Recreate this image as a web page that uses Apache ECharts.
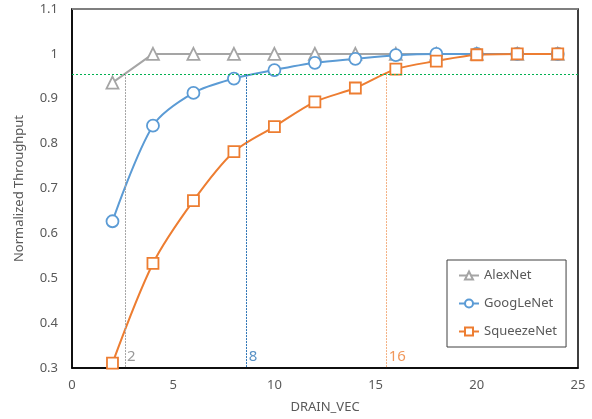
<!DOCTYPE html>
<html><head><meta charset="utf-8">
<script src="https://cdn.jsdelivr.net/npm/echarts@6/dist/echarts.min.js"></script>
<style>html,body{margin:0;padding:0;background:#fff}#c{width:592px;height:419px}</style>
</head><body><div id="c"></div>
<script>
const drainVec = [2,4,6,8,10,12,14,16,18,20,22,24];
const alexNet = [0.936,1,1,1,1,1,1,1,1,1,1,1];
const googLeNet = [0.627,0.840,0.913,0.945,0.964,0.980,0.989,0.997,1.0,1.0,1.0,1.0];
const squeezeNet = [0.311,0.533,0.673,0.782,0.838,0.893,0.924,0.966,0.984,0.998,1.0,1.0];
const threshold = 0.955;
const cutoffX = [2.62, 8.63, 15.55];
const cutoffLabels = ['2','8','16'];
const cutoffLineColors = ['#A5A5A5','#2E75B6','#F4B183'];
const cutoffTextColors = ['#7F7F7F','#2E75B6','#ED7D31'];
const lineColors = ['#A5A5A5','#5B9BD5','#ED7D31'];
const font = 'Noto Sans';

const pairs = (ys) => drainVec.map((x,i)=>[x, ys[i]]);

const chart = echarts.init(document.getElementById('c'));
const series = [
  {name:'AlexNet', data:pairs(alexNet), symbol:'triangle', color:lineColors[0], smooth:false},
  {name:'GoogLeNet', data:pairs(googLeNet), symbol:'circle', color:lineColors[1], smooth:0.3},
  {name:'SqueezeNet', data:pairs(squeezeNet), symbol:'rect', color:lineColors[2], smooth:0.3}
].map((s)=>({
  name:s.name, type:'line', data:s.data, smooth:s.smooth,
  symbol:s.symbol, symbolSize:s.symbol==='rect'?11:12, showSymbol:true,
  itemStyle:{color:'#fff', borderColor:s.color, borderWidth:1.8},
  lineStyle:{color:s.color, width:2}, z:3
}));

series.push({
  type:'line', data:[], silent:true,
  markLine:{symbol:'none', silent:true, label:{show:false},
    data:[
      [{coord:[0,threshold]},{coord:[25,threshold], lineStyle:{color:'#00B050',type:[2,2],width:1}}],
      [{coord:[0,1.1]},{coord:[25,1.1], lineStyle:{color:'#7F7F7F',type:'solid',width:2}}]
    ].concat(cutoffX.map((x,i)=>[{coord:[x,threshold]},{coord:[x,0.3], lineStyle:{color:cutoffLineColors[i],type:[2,1],width:1}}]))
  }
});
series.push({
  type:'scatter', symbolSize:0, silent:true,
  data:cutoffX.map((x,i)=>({value:[x,0.3], label:{color:cutoffTextColors[i], formatter:cutoffLabels[i]}})),
  label:{show:true, position:'right', distance:2, offset:[0,-11], fontSize:15, fontFamily:font}
});

chart.setOption({
  animation:false,
  grid:{left:72, right:14, top:9, bottom:50, show:true, borderColor:'#000', borderWidth:1.5},
  legend:{
    orient:'vertical', left:447, top:260,
    data:['AlexNet','GoogLeNet','SqueezeNet'],
    borderColor:'#404040', borderWidth:1, backgroundColor:'#fff',
    padding:[9,9,9,11], itemGap:15, itemWidth:20, itemHeight:10,
    textStyle:{fontSize:13, color:'#595959', fontFamily:font}
  },
  xAxis:{type:'value', min:0, max:25, interval:5,
    name:'DRAIN_VEC', nameLocation:'middle', nameGap:33,
    nameTextStyle:{fontSize:13, color:'#595959', fontFamily:font},
    axisLine:{lineStyle:{color:'#000', width:1.5}}, axisTick:{show:false},
    axisLabel:{fontSize:13, color:'#595959', margin:11, fontFamily:font},
    splitLine:{show:false}},
  yAxis:{type:'value', min:0.3, max:1.1, interval:0.1,
    name:'Normalized Throughput', nameLocation:'middle', nameGap:46,
    nameTextStyle:{fontSize:13, color:'#595959', fontFamily:font},
    axisLine:{show:true, lineStyle:{color:'#000', width:1.5}}, axisTick:{show:false},
    axisLabel:{fontSize:13, color:'#595959', margin:14, fontFamily:font,
      formatter:(v)=>String(Math.round(v*10)/10)},
    splitLine:{show:false}},
  series:series
});
</script></body></html>
